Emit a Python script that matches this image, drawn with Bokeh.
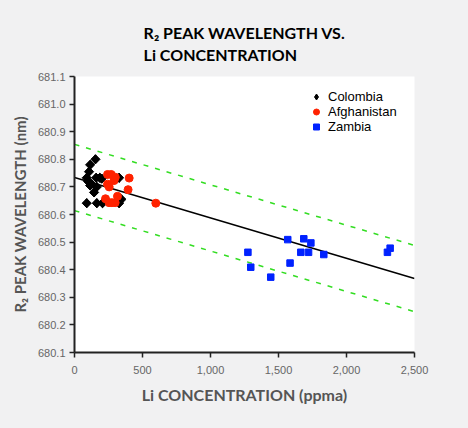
from bokeh.plotting import figure
from bokeh.models import Range1d, NumeralTickFormatter, FixedTicker, Legend, LegendItem
from bokeh.embed import file_html
from bokeh.resources import INLINE
import numpy as np

colombia_x = [154, 115, 107, 90, 100, 115, 144, 164, 159, 186, 328, 90, 164, 206, 328, 345, 125, 200]
colombia_y = [680.80, 680.78, 680.755, 680.733, 680.72, 680.705, 680.68, 680.70, 680.733, 680.733,
              680.733, 680.641, 680.641, 680.641, 680.641, 680.655, 680.71, 680.73]
afgh_x = [243, 270, 300, 291, 243, 255, 402, 394, 228, 254, 299, 316, 275, 598]
afgh_y = [680.745, 680.745, 680.735, 680.723, 680.71, 680.70, 680.732, 680.69, 680.657, 680.643,
          680.643, 680.666, 680.643, 680.641]
zambia_x = [1275, 1296, 1443, 1568, 1585, 1664, 1686, 1721, 1738, 1833, 2301, 2321]
zambia_y = [680.463, 680.409, 680.373, 680.509, 680.424, 680.463, 680.512, 680.463, 680.497,
            680.455, 680.463, 680.478]

fit_x = [0, 2500]
fit_y = [680.734, 680.368]
band = 0.12

x_ticks = [0, 500, 1000, 1500, 2000, 2500]
y_ticks = [680.1, 680.2, 680.3, 680.4, 680.5, 680.6, 680.7, 680.8, 680.9, 681.0, 681.1]

BG = "#f1f1f2"

p = figure(width=468, height=428, output_backend="svg", toolbar_location=None,
           x_range=Range1d(0, 2500), y_range=Range1d(680.1, 681.1),
           min_border_left=74, min_border_right=54, min_border_top=76, min_border_bottom=76,
           title="R₂ PEAK WAVELENGTH VS.\nLi CONCENTRATION")
p.border_fill_color = BG
p.background_fill_color = "white"
p.outline_line_color = None
p.grid.visible = False

p.title.align = "center"
p.title.text_font = "Lato"
p.title.text_font_style = "bold"
p.title.text_font_size = "16px"
p.title.text_color = "black"
p.title.text_line_height = 1.15
p.title.standoff = 25

for ax in (p.xaxis[0], p.yaxis[0]):
    ax.axis_line_color = "#222222"
    ax.axis_line_width = 2
    ax.major_tick_line_color = "#222222"
    ax.major_tick_line_width = 1.5
    ax.major_tick_out = 5
    ax.major_tick_in = 0
    ax.minor_tick_line_color = None
    ax.major_label_text_font = "Liberation Sans"
    ax.major_label_text_font_size = "11px"
    ax.major_label_text_color = "#666666"
    ax.axis_label_text_font = "Lato"
    ax.axis_label_text_font_style = "bold"
    ax.axis_label_text_color = "#555555"

p.xaxis.ticker = FixedTicker(ticks=x_ticks)
p.xaxis.formatter = NumeralTickFormatter(format="0,0")
p.xaxis.major_label_standoff = 8
p.xaxis.axis_label = "Li CONCENTRATION (ppma)"
p.xaxis.axis_label_standoff = 8
p.xaxis.axis_label_text_font_size = "16px"

p.yaxis.ticker = FixedTicker(ticks=y_ticks)
p.yaxis.formatter = NumeralTickFormatter(format="0.0")
p.yaxis.major_label_standoff = 4
p.yaxis.axis_label = "R₂ PEAK WAVELENGTH (nm)"
p.yaxis.axis_label_standoff = 6
p.yaxis.axis_label_text_font_size = "15px"

fx = np.array(fit_x, dtype=float)
fy = np.array(fit_y, dtype=float)
p.line(fx, fy, line_color="black", line_width=1.5)
p.line(fx, fy + band, line_color="#33dd22", line_width=1.5, line_dash="5 7")
p.line(fx, fy - band, line_color="#33dd22", line_width=1.5, line_dash="5 7")

# diamond marker (drawn beneath the rotated squares) used for the legend swatch
r1_leg = p.scatter(colombia_x, colombia_y, marker="diamond", size=9,
                   fill_color="black", line_color="black")
r1 = p.scatter(colombia_x, colombia_y, marker="square", angle=np.pi / 4, size=6.5,
               fill_color="black", line_color="black")
r2 = p.scatter(afgh_x, afgh_y, marker="circle", size=8, fill_color="#ff2200", line_color="#ff2200")
r3 = p.scatter(zambia_x, zambia_y, marker="square", size=6.5, fill_color="#0022ff", line_color="#0022ff")

legend = Legend(items=[LegendItem(label="Colombia", renderers=[r1_leg]),
                       LegendItem(label="Afghanistan", renderers=[r2]),
                       LegendItem(label="Zambia", renderers=[r3])],
                location=(234, 218))
legend.padding = 0
legend.margin = 0
legend.spacing = 0
legend.glyph_width = 16
legend.glyph_height = 15
legend.label_height = 15
legend.label_standoff = 4
legend.label_text_font = "Liberation Sans"
legend.label_text_font_size = "13px"
legend.label_text_color = "black"
legend.border_line_color = None
legend.background_fill_alpha = 0
p.add_layout(legend)

html = file_html(p, INLINE)
html = html.replace("<head>", "<head><style>html,body{background:%s;margin:0;padding:0;}</style>" % BG, 1)
open("out.html", "w").write(html)
